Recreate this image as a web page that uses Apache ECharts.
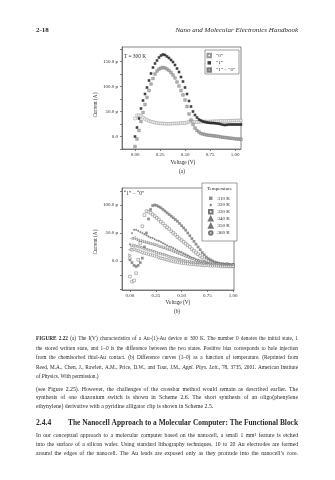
<!DOCTYPE html>
<html>
<head>
<meta charset="utf-8">
<script src="https://cdn.jsdelivr.net/npm/echarts@6/dist/echarts.min.js"></script>
<style>
  html, body { margin: 0; padding: 0; background: #fff; }
  #page { width: 335px; height: 480px; }
</style>
</head>
<body>
<div id="page"></div>
<script>
// ---- Panel (a): I(V) of the Au-(1)-Au device at 300 K ----
const voltsA = [0, 0.02, 0.04, 0.06, 0.08, 0.10, 0.12, 0.14, 0.16, 0.18,
  0.20, 0.22, 0.24, 0.26, 0.28, 0.30, 0.32, 0.34, 0.36, 0.38,
  0.40, 0.42, 0.44, 0.46, 0.48, 0.50, 0.52, 0.54, 0.56, 0.58,
  0.60, 0.62, 0.64, 0.66, 0.68, 0.70, 0.72, 0.74, 0.76, 0.78,
  0.80, 0.82, 0.84, 0.86, 0.88, 0.90, 0.92, 0.94, 0.96, 0.98,
  1.00, 1.02, 1.04, 1.06];
// currents in pA
const stateZero = [36, 42, 43, 41, 38, 35, 33, 31, 30, 29,
  28, 27, 26.5, 26, 26, 25.5, 25.5, 25.5, 25.5, 26,
  26, 26, 26.5, 27, 27, 27, 28, 29.5, 30, 30,
  29.5, 29, 29, 29.5, 30, 30, 30, 30, 30, 30.5,
  30.5, 30.5, 31, 31, 31, 31, 31, 31.5, 31.5, 31.5,
  32, 32, 32, 32];
const stateOne = [0, 18, 36, 56, 72, 85, 98, 112, 126, 138,
  146, 152, 158, 162, 164, 163, 160, 157, 153, 149,
  143, 136, 129, 119, 110, 98, 85, 71, 60, 50,
  43, 38, 34, 32, 30, 29, 28, 27.5, 27, 27,
  26.5, 26, 25.5, 24.5, 23.5, 23, 23.5, 24, 24, 24,
  24, 24, 24, 24];
const stateDiff = [-20, -5, 12, 30, 48, 64, 78, 92, 105, 116,
  125, 131, 135, 137, 138, 137, 135, 132, 128, 123,
  117, 109, 101, 92, 83, 73, 60, 45, 33, 24,
  17, 12, 9, 6, 5, 4, 3, 2.5, 2, 1.5,
  1, 0.5, 0, -1, -1.5, -2, -2.5, -3, -3.5, -4,
  -4.5, -5, -5, -5.5];
const seriesNamesA = ['\u201c0\u201d', '\u201c1\u201d', '\u201c1\u201d \u2212 \u201c0\u201d'];

// ---- Panel (b): difference curves "1" - "0" versus temperature ----
const voltsB = [0, 0.02, 0.04, 0.06, 0.08, 0.10, 0.12, 0.14, 0.16, 0.18,
  0.20, 0.22, 0.24, 0.26, 0.28, 0.30, 0.32, 0.34, 0.36, 0.38,
  0.40, 0.42, 0.44, 0.46, 0.48, 0.50, 0.52, 0.54, 0.56, 0.58,
  0.60, 0.62, 0.64, 0.66, 0.68, 0.70, 0.72, 0.74, 0.76, 0.78,
  0.80, 0.82, 0.84, 0.86, 0.88, 0.90, 0.92, 0.94, 0.96, 0.98,
  1.00];
const diff310 = [2, -3, -8, -10, -8, -3, 5, 25, 50, 75,
  92, 99, 100, 99, 97, 95, 92, 89, 86, 83,
  80, 77, 74, 71, 67, 63, 59, 55, 50, 45,
  40, 35, 30, 25, 20, 15, 11, 7, 4, 2,
  0, -2, -3, -4, -5, -5, -6, -5, -6, -7,
  -6];
const diff320 = [30, 50, 56, 56, 54, 52, 50, 48, 46, 44,
  42, 41, 39, 37, 36, 34, 32, 30, 28, 26,
  25, 23, 21, 19, 17, 16, 14, 12, 10, 8,
  6, 5, 3, 2, 0, -1, -2, -3, -4, -5,
  -6, -6, -7, -7, -8, -8, -8, -9, -8, -9,
  -9];
const diff330 = [-28, -37, -35, -22, 2, 32, 62, 82, 89, 88,
  86, 83, 80, 77, 74, 70, 67, 63, 60, 57,
  53, 50, 47, 43, 40, 37, 34, 31, 28, 25,
  21, 18, 15, 12, 9, 6, 3, 1, -1, -3,
  -4, -5, -6, -6, -7, -7, -8, -7, -8, -8,
  -8];
const diff340 = [20, 40, 41, 39, 37, 36, 35, 34, 33, 32,
  31, 30, 29, 28, 26, 25, 24, 23, 21, 20,
  19, 17, 16, 14, 13, 11, 10, 8, 7, 5,
  4, 3, 1, 0, -1, -2, -3, -4, -4, -5,
  -5, -6, -6, -7, -7, -7, -8, -8, -8, -9,
  -9];
const diff350 = [10, 27, 28, 27, 26, 25, 24, 22, 21, 20,
  19, 18, 17, 15, 14, 13, 12, 11, 10, 8,
  7, 6, 5, 4, 3, 2, 1, 0, -1, -1,
  -2, -3, -3, -4, -4, -5, -5, -6, -6, -6,
  -7, -7, -7, -8, -8, -8, -8, -9, -9, -9,
  -10];
const diff360 = [5, 20, 21, 19, 18, 17, 15, 14, 13, 12,
  11, 10, 9, 8, 6, 5, 4, 3, 2, 1,
  0, -1, -2, -2, -3, -4, -4, -5, -5, -6,
  -6, -6, -7, -7, -7, -8, -8, -8, -8, -9,
  -9, -9, -9, -9, -10, -10, -10, -10, -10, -10,
  -10];
const temperatureNames = ['310 K', '320 K', '330 K', '340 K', '350 K', '360 K'];

// tick positions
const voltageTicks = [0, 0.25, 0.5, 0.75, 1.0];
const currentLabelsA = [0, 50, 100, 150];
const currentTicksA = [-25, 0, 25, 50, 75, 100, 125, 150, 175];
const currentLabelsB = [0, 50, 100];
const currentTicksB = [-50, -25, 0, 25, 50, 75, 100, 125];

// ---- page text ----
const headerLeft = '2-18';
const headerRight = 'Nano and Molecular Electronics Handbook';
const captionLines = [
  '!FIGURE !2.22 (a) The I(V) characteristics of a Au-(1)-Au device at 300 K. The number 0 denotes the initial state, 1',
  'the stored written state, and 1\u20130 is the difference between the two states. Positive bias corresponds to hole injection',
  'from the chemisorbed thiol-Au contact. (b) Difference curves (1\u20130) as a function of temperature. (Reprinted from',
  'Reed, M.A., Chen, J., Rawlett, A.M., Price, D.W., and Tour, J.M., *Appl. *Phys. *Lett., 78, 3735, 2001. American Institute',
  'of Physics. With permission.)'
];
const paragraphOne = [
  '(see Figure 2.25). However, the challenges of the crossbar method would remain as described earlier. The',
  'synthesis of one diazonium switch is shown in Scheme 2.6. The short synthesis of an oligo(phenylene',
  'ethynylene) derivative with a pyridine alligator clip is shown in Scheme 2.5.'
];
const sectionNumber = '2.4.4';
const sectionTitle = 'The Nanocell Approach to a Molecular Computer: The Functional Block';
const paragraphTwo = [
  'In our conceptual approach to a molecular computer based on the nanocell, a small 1 mm\u00b2 feature is etched',
  'into the surface of a silicon wafer. Using standard lithography techniques, 10 to 20 Au electrodes are formed',
  'around the edges of the nanocell. The Au leads are exposed only as they protrude into the nanocell\u2019s core.'
];

const SERIF = "'Liberation Serif', 'DejaVu Serif', serif";
const INK = '#2a2a2a';
const measureCtx = document.createElement('canvas').getContext('2d');
const fontOf = (size, weight, style) => `${style} ${weight} ${size}px ${SERIF}`;

// Lay out one line of words; justified lines spread the gaps to fill the width.
function setLine(elements, line, x0, y, width, size, justify, baseWeight) {
  const weight0 = baseWeight || 'normal';
  const words = line.split(' ').filter(Boolean).map(raw => {
    let t = raw, weight = weight0, style = 'normal';
    if (t.startsWith('!')) { weight = 'bold'; t = t.slice(1); }
    if (t.startsWith('*')) { style = 'italic'; t = t.slice(1); }
    measureCtx.font = fontOf(size, weight, style);
    return { t, weight, style, w: measureCtx.measureText(t).width };
  });
  measureCtx.font = fontOf(size, weight0, 'normal');
  const space = measureCtx.measureText(' ').width;
  const total = words.reduce((s, w) => s + w.w, 0);
  const gap = justify && words.length > 1 ? (width - total) / (words.length - 1) : space;
  let x = x0;
  words.forEach(w => {
    elements.push({
      type: 'text', silent: true,
      style: { text: w.t, x, y, fill: INK, fontSize: size, fontFamily: SERIF,
               fontWeight: w.weight, fontStyle: w.style, textVerticalAlign: 'middle' }
    });
    x += w.w + gap;
  });
}

function fitSize(text, width, weight) {
  measureCtx.font = fontOf(10, weight, 'normal');
  return 10 * width / measureCtx.measureText(text).width;
}

const LEFT = 36, RIGHT = 298, WIDTH = RIGHT - LEFT;
const graphics = [];

// running head
graphics.push({ type: 'text', silent: true, style: { text: headerLeft, x: LEFT, y: 30, fill: INK,
  fontSize: 7, fontFamily: SERIF, fontWeight: 'bold', textVerticalAlign: 'middle' } });
graphics.push({ type: 'text', silent: true, style: { text: headerRight, x: RIGHT, y: 30, fill: INK,
  fontSize: 7, fontFamily: SERIF, fontStyle: 'italic', textAlign: 'right', textVerticalAlign: 'middle' } });

captionLines.forEach((l, i) => setLine(graphics, l, LEFT, 339 + i * 9.5, WIDTH, 5.3, i < captionLines.length - 1));
paragraphOne.forEach((l, i) => setLine(graphics, l, LEFT, 389 + i * 8.6, WIDTH, 5.8, i < paragraphOne.length - 1));
graphics.push({ type: 'text', silent: true, style: { text: sectionNumber, x: LEFT, y: 423, fill: INK,
  fontSize: 7.6, fontFamily: SERIF, fontWeight: 'bold', textVerticalAlign: 'middle' } });
setLine(graphics, sectionTitle, 68, 423, RIGHT - 68, Math.min(7.8, fitSize(sectionTitle, RIGHT - 68, 'bold')), true, 'bold');
paragraphTwo.forEach((l, i) => setLine(graphics, l, LEFT, 436 + i * 8.6, WIDTH, 5.7, true));

// chart annotations
const small = (text, x, y, extra) => ({ type: 'text', silent: true, z: 10,
  style: Object.assign({ text, x, y, fill: INK, fontSize: 5.3, fontFamily: SERIF, textVerticalAlign: 'middle' }, extra || {}) });
graphics.push(small('T = 300 K', 124, 57));
graphics.push(small('\u201c1\u201d \u2212 \u201c0\u201d', 124, 194));
graphics.push(Object.assign(small('Current (A)', 96, 105, { textAlign: 'center' }), { rotation: Math.PI / 2 }));
graphics.push(Object.assign(small('Current (A)', 96, 242, { textAlign: 'center' }), { rotation: Math.PI / 2 }));
graphics.push(small('Voltage (V)', 183, 163, { textAlign: 'center' }));
graphics.push(small('Voltage (V)', 178, 302.5, { textAlign: 'center' }));
graphics.push(small('(a)', 182, 172, { textAlign: 'center' }));
graphics.push(small('(b)', 177, 311.5, { textAlign: 'center' }));

// legend frames
graphics.push({ type: 'rect', silent: true, z: 3, shape: { x: 205, y: 50, width: 34, height: 24 },
  style: { fill: '#fff', stroke: '#777', lineWidth: 0.7 } });
graphics.push({ type: 'rect', silent: true, z: 3, shape: { x: 202, y: 183, width: 35, height: 58 },
  style: { fill: '#fff', stroke: '#777', lineWidth: 0.7 } });
graphics.push(small('Temperature', 219.5, 189, { textAlign: 'center', fontSize: 5 }));

// rotated labels turn around their own anchor point
graphics.forEach(g => {
  if (g.rotation) {
    g.x = g.style.x; g.y = g.style.y; g.style.x = 0; g.style.y = 0;
  }
});

const STAR = 'path://M0,-10L2.9,-4L9.5,-3.1L4.8,1.5L5.9,8.1L0,5L-5.9,8.1L-4.8,1.5L-9.5,-3.1L-2.9,-4Z';

function valueAxis(gridIndex, min, max, labels, ticks, fmt, margin) {
  return {
    type: 'value', gridIndex, min, max,
    splitLine: { show: false },
    axisLine: { show: true, onZero: false, lineStyle: { color: '#555', width: 0.7 } },
    axisTick: { show: true, length: 2, customValues: ticks, lineStyle: { color: '#555', width: 0.7 } },
    axisLabel: { customValues: labels, formatter: fmt, fontSize: 5, fontFamily: SERIF, color: INK, margin }
  };
}
const fmtV = v => v.toFixed(2);
const fmtI = v => v === 0 ? '0.0' : v.toFixed(1) + ' p';

const pairs = (xs, ys) => xs.map((x, i) => [x, ys[i]]);

const seriesA = [
  { name: seriesNamesA[0], values: stateZero, style: { color: '#fff', borderColor: '#808080', borderWidth: 0.5 } },
  { name: seriesNamesA[1], values: stateOne, style: { color: '#111' } },
  { name: seriesNamesA[2], values: stateDiff, style: { color: '#aaa', borderColor: '#666', borderWidth: 0.5 } }
].map(s => ({
  type: 'scatter', name: s.name, xAxisIndex: 0, yAxisIndex: 0,
  data: pairs(voltsA, s.values), symbol: 'rect', symbolSize: 2.6, itemStyle: s.style, silent: true
}));

const looksB = [
  { symbol: 'rect', rotate: 0, style: { color: '#777' } },
  { symbol: STAR, rotate: 0, style: { color: '#666' } },
  { symbol: 'rect', rotate: 0, style: { color: '#fff', borderColor: '#555', borderWidth: 0.5 } },
  { symbol: 'triangle', rotate: 90, style: { color: '#fff', borderColor: '#555', borderWidth: 0.5 } },
  { symbol: 'triangle', rotate: -90, style: { color: '#fff', borderColor: '#555', borderWidth: 0.5 } },
  { symbol: 'circle', rotate: 0, style: { color: '#fff', borderColor: '#555', borderWidth: 0.5 } }
];
const curvesB = [diff310, diff320, diff330, diff340, diff350, diff360];
const seriesB = curvesB.map((vals, k) => ({
  type: 'scatter', name: temperatureNames[k], xAxisIndex: 1, yAxisIndex: 1,
  data: pairs(voltsB, vals), symbol: looksB[k].symbol, symbolRotate: looksB[k].rotate,
  symbolSize: 2.7, itemStyle: looksB[k].style, silent: true
}));

const legendText = { fontSize: 5, fontFamily: SERIF, color: INK, lineHeight: 5 };

const chart = echarts.init(document.getElementById('page'), null, { renderer: 'canvas' });
chart.setOption({
  animation: false,
  backgroundColor: '#fff',
  grid: [
    { left: 122, top: 47, width: 119, height: 102, show: true, borderColor: '#555', borderWidth: 0.7, backgroundColor: 'transparent' },
    { left: 122, top: 188, width: 112, height: 102, show: true, borderColor: '#555', borderWidth: 0.7, backgroundColor: 'transparent' }
  ],
  xAxis: [
    valueAxis(0, -0.13, 1.06, voltageTicks, voltageTicks, fmtV, 3),
    valueAxis(1, -0.077, 1.008, voltageTicks, voltageTicks, fmtV, 3)
  ],
  yAxis: [
    valueAxis(0, -25, 179, currentLabelsA, currentTicksA, fmtI, 4),
    valueAxis(1, -52, 130.4, currentLabelsB, currentTicksB, fmtI, 4)
  ],
  legend: [
    { data: seriesNamesA, orient: 'vertical', left: 206.5, top: 52.8, itemWidth: 3.5, itemHeight: 3.5,
      itemGap: 2, padding: 0, textStyle: legendText, selectedMode: false, z: 6 },
    { data: temperatureNames, orient: 'vertical', left: 208, top: 195.8, itemWidth: 3.5, itemHeight: 3.5,
      itemGap: 1.6, padding: 0, textStyle: legendText, selectedMode: false, z: 6 }
  ],
  series: seriesA.concat(seriesB),
  graphic: { elements: graphics }
});
</script>
</body>
</html>
